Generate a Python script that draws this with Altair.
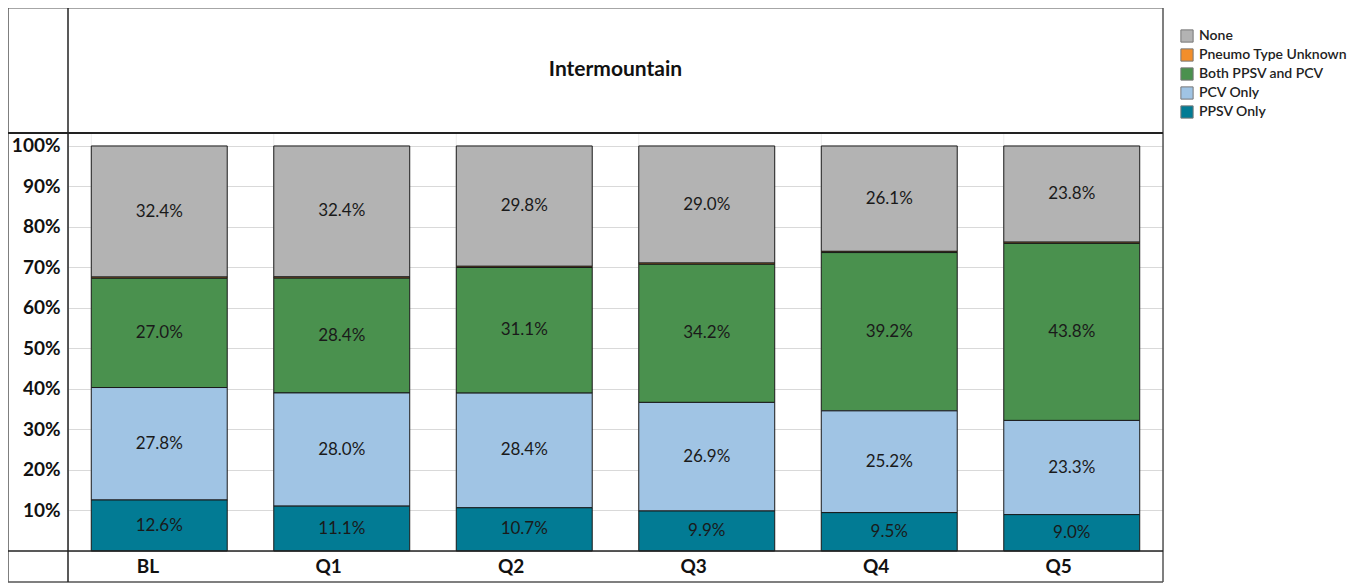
import altair as alt
import pandas as pd

periods = ["BL", "Q1", "Q2", "Q3", "Q4", "Q5"]
series = ["None", "Pneumo Type Unknown", "Both PPSV and PCV", "PCV Only", "PPSV Only"]
colors = ["#b3b3b3", "#f28e2b", "#4a914e", "#a0c4e4", "#027b94"]

none_vals = [32.4, 32.4, 29.8, 29.0, 26.1, 23.8]
unknown_vals = [0.3, 0.3, 0.3, 0.3, 0.3, 0.3]
both_vals = [27.0, 28.4, 31.1, 34.2, 39.2, 43.8]
pcv_vals = [27.8, 28.0, 28.4, 26.9, 25.2, 23.3]
ppsv_vals = [12.6, 11.1, 10.7, 9.9, 9.5, 9.0]

y_ticks = [0.1, 0.2, 0.3, 0.4, 0.5, 0.6, 0.7, 0.8, 0.9, 1.0]

vals = {
    "None": none_vals,
    "Pneumo Type Unknown": unknown_vals,
    "Both PPSV and PCV": both_vals,
    "PCV Only": pcv_vals,
    "PPSV Only": ppsv_vals,
}
rank = {"PPSV Only": 0, "PCV Only": 1, "Both PPSV and PCV": 2, "Pneumo Type Unknown": 3, "None": 4}

rows = []
for s in series:
    for p, v in zip(periods, vals[s]):
        rows.append({"period": p, "series": s, "value": v, "rank": rank[s]})
df = pd.DataFrame(rows)

W, H = 1095, 418
FONT = "Lato"

xenc = alt.X("period:N", sort=periods, title=None,
             scale=alt.Scale(paddingInner=0.255, paddingOuter=0.1275),
             axis=alt.Axis(labelFont=FONT, labelFontSize=19, labelFontWeight="bold",
                           labelColor="#111", labelAngle=0, ticks=False, domain=False,
                           labelPadding=15, grid=False))
yscale = alt.Scale(domain=[0, 1.032], nice=False, zero=True)

bars = alt.Chart(df).mark_bar(stroke="#1a1a1a", strokeWidth=1).encode(
    x=xenc,
    y=alt.Y("value:Q", stack="normalize", scale=yscale, title=None,
            axis=alt.Axis(values=y_ticks, format=".0%", labelFont=FONT, labelFontSize=19,
                          labelFontWeight="bold", labelColor="#111", ticks=False,
                          domain=False, labelPadding=8, grid=True, gridColor="#d9d9d9",
                          gridWidth=1)),
    color=alt.Color("series:N", scale=alt.Scale(domain=series, range=colors),
                    legend=alt.Legend(title=None, orient="none", legendX=1112, legendY=-104,
                                      symbolType="square", symbolSize=150,
                                      symbolStrokeColor="#777", symbolStrokeWidth=1,
                                      labelFont=FONT, labelFontSize=14, labelFontWeight=600,
                                      labelColor="#222", rowPadding=1, labelOffset=5)),
    order=alt.Order("rank:Q"),
)

labels = alt.Chart(df).transform_stack(
    stack="value", groupby=["period"], as_=["v0", "v1"],
    sort=[alt.SortField("rank", order="ascending")], offset="normalize"
).transform_filter(
    alt.datum.series != "Pneumo Type Unknown"
).transform_calculate(
    mid="(datum.v0 + datum.v1) / 2",
    label="format(datum.value, '.1f') + '%'"
).mark_text(font=FONT, fontSize=17, color="#1a1a1a", baseline="middle").encode(
    x=alt.X("period:N", sort=periods),
    y=alt.Y("mid:Q", scale=yscale),
    text="label:N",
)

sep = alt.Chart(pd.DataFrame({"period": periods})).mark_rule(color="#ececec", strokeWidth=1).encode(
    x=alt.X("period:N", sort=periods, bandPosition=0),
)

dummy = pd.DataFrame({"d": [0]})

def line(x1, x2, y1, y2, color, w):
    return alt.Chart(dummy).mark_rule(color=color, strokeWidth=w).encode(
        x=alt.value(x1), x2=alt.value(x2), y=alt.value(y1), y2=alt.value(y2))

frame = [
    line(-60, W, -125, -125, "#888", 1.5),
    line(-60, W, 449, 449, "#555", 1.5),
    line(-60, -60, -125, 449, "#555", 1.5),
    line(W, W, -125, 449, "#555", 1.5),
    line(0, 0, -125, 449, "#222", 1.5),
    line(-60, W, 0, 0, "#222", 2),
    line(-60, W, H, H, "#222", 1.5),
]

title = alt.Chart(dummy).mark_text(font=FONT, fontSize=21, fontWeight="bold", color="#111",
                                   baseline="middle", align="center").encode(
    x=alt.value(W / 2), y=alt.value(-63), text=alt.value("Intermountain"))

chart = alt.layer(sep, bars, labels, title, *frame).properties(
    width=W, height=H,
    autosize=alt.AutoSizeParams(type="none"),
    padding={"left": 60, "top": 125, "right": 193, "bottom": 32},
).configure_view(stroke=None).configure(background="white")

chart.save("out.html", embed_options={"renderer": "svg", "actions": False})
